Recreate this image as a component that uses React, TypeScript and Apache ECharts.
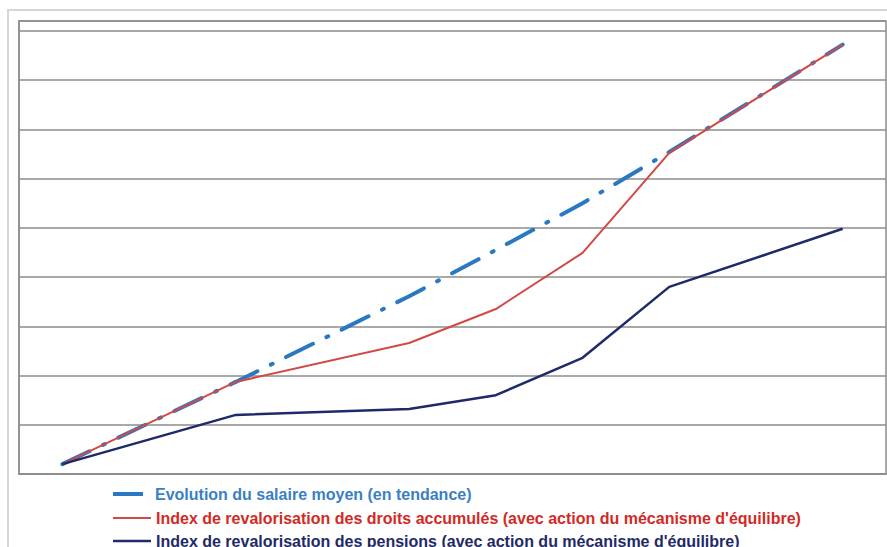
import React, { useEffect, useRef } from "react";
import * as echarts from "echarts";

const xValues = [0, 2, 4, 5, 6, 7, 9];
const salaireMoyen = [0.2, 1.87, 3.61, 4.55, 5.5, 6.54, 8.72];
const droitsAccumules = [0.2, 1.87, 2.66, 3.35, 4.49, 6.52, 8.72];
const pensions = [0.2, 1.2, 1.32, 1.6, 2.36, 3.8, 4.98];

const seriesNames = [
  "Evolution du salaire moyen (en tendance)",
  "Index de revalorisation des droits accumulés (avec action du mécanisme d'équilibre)",
  "Index de revalorisation des pensions (avec action du mécanisme d'équilibre)",
];
const seriesColors = ["#2b78c2", "#d24a45", "#1f2a68"];
const textColors = ["#3a7fc4", "#d22a26", "#1f2a68"];

function pairs(ys: number[]) {
  return ys.map((y, i) => [xValues[i], y]);
}

export default function App() {
  const ref = useRef<HTMLDivElement>(null);
  useEffect(() => {
    if (!ref.current) return;
    const chart = echarts.init(ref.current, null, { renderer: "svg" });
    const grey = "#8c8c8c";
    const legendTops = [486, 510, 533];
    const legendWidths = [30, 38, 38];
    const legendHeights = [4, 2, 2.5];
    const legendPads = [7, 0, 0];
    chart.setOption({
      animation: false,
      backgroundColor: "#ffffff",
      graphic: [
        {
          type: "rect",
          shape: { x: 8, y: 10, width: 900, height: 600 },
          style: { fill: "none", stroke: "#d6d6d6", lineWidth: 2 },
          silent: true,
          z: -10,
        },
      ],
      grid: {
        left: 19,
        right: 1,
        top: 21,
        bottom: 73,
        show: true,
        borderColor: grey,
        borderWidth: 1.5,
        backgroundColor: "transparent",
      },
      xAxis: {
        type: "value",
        min: -0.5,
        max: 9.5,
        axisLine: { show: true, onZero: false, lineStyle: { color: grey, width: 1.5 } },
        axisTick: { show: false },
        axisLabel: { show: false },
        splitLine: { show: false },
      },
      yAxis: {
        type: "value",
        min: 0,
        max: 9.2,
        interval: 1,
        axisLine: { show: true, onZero: false, lineStyle: { color: grey, width: 1.5 } },
        axisTick: { show: false },
        axisLabel: { show: false },
        splitLine: { show: true, lineStyle: { color: grey, width: 1.5 } },
      },
      legend: seriesNames.map((n, i) => ({
        orient: "vertical",
        left: 113,
        top: legendTops[i],
        icon: "rect",
        itemWidth: legendWidths[i],
        itemHeight: legendHeights[i],
        selectedMode: false,
        padding: 0,
        textStyle: {
          fontFamily: "Liberation Sans, Arial, sans-serif",
          fontWeight: "bold",
          fontSize: 16,
          color: textColors[i],
          padding: [0, 0, 0, legendPads[i]],
        },
        data: [{ name: n }],
      })),
      series: [
        {
          name: seriesNames[0],
          type: "line",
          data: pairs(salaireMoyen),
          symbol: "none",
          lineStyle: {
            color: seriesColors[0],
            width: 4,
            type: [30, 15, 2, 15],
            cap: "round",
          },
          itemStyle: { color: seriesColors[0] },
          z: 2,
        },
        {
          name: seriesNames[1],
          type: "line",
          data: pairs(droitsAccumules),
          symbol: "none",
          lineStyle: { color: seriesColors[1], width: 2 },
          itemStyle: { color: seriesColors[1] },
          z: 3,
        },
        {
          name: seriesNames[2],
          type: "line",
          data: pairs(pensions),
          symbol: "none",
          lineStyle: { color: seriesColors[2], width: 2.5 },
          itemStyle: { color: seriesColors[2] },
          z: 4,
        },
      ],
    });
    return () => chart.dispose();
  }, []);
  return (
    <div
      ref={ref}
      style={{ position: "fixed", left: 0, top: 0, width: 887, height: 547 }}
    />
  );
}
